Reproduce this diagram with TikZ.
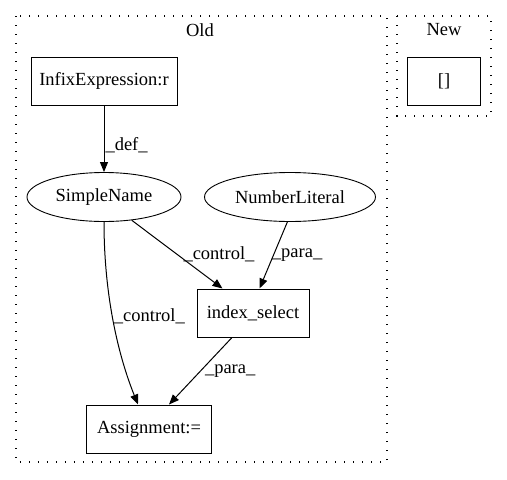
\documentclass[tikz,border=0pt]{standalone}
\usepackage{fontspec}
\setmainfont{Liberation Serif}
\usetikzlibrary{arrows.meta,shapes.geometric}
\newcommand{\gvfont}{\fontsize{18.5}{21}\selectfont}
\begin{document}
\begin{tikzpicture}[x=1pt,y=-1pt,
  every node/.style={font=\gvfont},
  boxnode/.style={draw,line width=1pt,rectangle,inner sep=0pt},
  ellnode/.style={draw,line width=0.9pt,ellipse,inner sep=0pt},
  cluster/.style={draw,line width=1.2pt,dash pattern=on 1.3pt off 7.7pt},
  edge/.style={draw,line width=1pt,-{Triangle[length=10pt,width=8pt]}},
  lbl/.style={inner sep=1pt}]
\useasboundingbox (0,0) rectangle (507,480);
\draw[cluster] (16,16) rectangle (387,462);
\draw[cluster] (397,16) rectangle (491,116);
\node (old) at (200,30) {Old};
\node (new) at (444,30) {New};
\node[boxnode,minimum width=146pt,minimum height=48pt] (infix) at (104,81) {InfixExpression:r};
\node[boxnode,minimum width=73pt,minimum height=48pt] (br) at (444,81) {[]};
\node[ellnode,minimum width=154pt,minimum height=49pt] (sn) at (104,197) {SimpleName};
\node[ellnode,minimum width=171pt,minimum height=49pt] (nl) at (290,197) {NumberLiteral};
\node[boxnode,minimum width=112pt,minimum height=48pt] (is) at (253,313) {index\_select};
\node[boxnode,minimum width=125pt,minimum height=48pt] (as) at (149,429) {Assignment:=};
\draw[edge] (infix) -- node[lbl,right,pos=0.6] {\_def\_} (sn);
\path (is.north west) ++(26,0) coordinate (isin1);
\path (is.north west) ++(63,0) coordinate (isin2);
\draw[edge] (sn.-40) -- node[lbl,pos=0.62,above right,xshift=-6pt,yshift=-1pt] {\_control\_} (isin1);
\draw[edge] (nl.-96) -- node[lbl,right,pos=0.5,xshift=-3pt] {\_para\_} (isin2);
\path (as.north west) ++(52,0) coordinate (asin1);
\path (as.north west) ++(83,0) coordinate (asin2);
\draw[edge] (sn.south) .. controls (104,300) and (120,360) .. node[lbl,right,pos=0.45] {\_control\_} (asin1);
\path (is.south) ++(-21,0) coordinate (isout);
\draw[edge] (isout) -- node[lbl,right,pos=0.5,xshift=3pt] {\_para\_} (asin2);
\end{tikzpicture}
\end{document}
